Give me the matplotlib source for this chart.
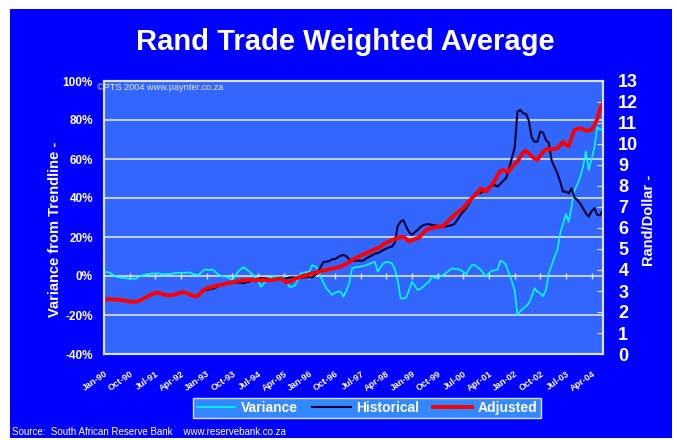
import matplotlib.pyplot as plt
import numpy as np
from matplotlib.patches import Rectangle
from matplotlib.lines import Line2D

plt.rcParams['font.family'] = ['Liberation Sans', 'DejaVu Sans']

# monthly values, Jan-90 .. Aug-04
variance = [
    2.2, 2.0, 1.7, 0.8, -0.4, -0.6, -0.9, -1.0, -1.2, -1.4, -1.3, -1.5,
    -0.6, 0.2, 0.5, 0.9, 1.1, 1.3, 1.2, 1.4, 1.0, 0.8, 1.1, 0.9,
    1.2, 1.5, 1.6, 1.7, 1.5, 1.8, 1.7, 1.2, 0.8, 0.5, 1.6, 3.1,
    3.3, 3.0, 3.4, 2.1, 0.9, 0.0, -0.3, -0.4, -1.2, -2.1, 0.1, 2.2,
    3.6, 4.5, 3.4, 2.2, 0.8, -0.6, -2.1, -5.5, -4.0, -2.1, -1.0, -0.4,
    -0.2, -0.5, -0.3, -0.4, -2.5, -5.5, -5.5, -4.8, -1.8, 1.4, 1.8, 2.0,
    2.2, 5.6, 5.0, 3.9, -0.4, -3.5, -6.3, -8.0, -9.7, -8.6, -8.0, -8.1,
    -10.6, -7.5, -3.7, 3.9, 4.4, 4.6, 4.8, 5.2, 5.6, 6.2, 6.8, 7.3,
    2.2, 4.5, 6.5, 7.3, 7.0, 6.5, 3.5, -2.1, -11.4, -11.6, -11.1, -7.2,
    -2.9, -5.0, -7.2, -6.5, -5.5, -4.0, -2.9, -0.4, -0.8, -1.2, 0.0, 0.5,
    1.5, 2.8, 3.9, 3.7, 3.5, 3.1, 2.0, 0.9, 3.5, 5.6, 5.6, 4.5,
    3.4, 1.5, -0.4, 1.5, 2.7, 2.9, 3.1, 7.8, 7.3, 5.5, 1.4, -2.5,
    -7.2, -20.0, -18.0, -16.6, -15.5, -14.0, -10.5, -6.3, -8.1, -9.0, -10.3, -7.2,
    1.4, 5.5, 9.9, 13.3, 22.0, 27.0, 31.8, 27.7, 36.0, 44.0, 47.0, 50.8,
    56.0, 64.0, 54.4, 60.0, 66.0, 76.4, 75.0, 75.4,
]

historical = [
    2.60, 2.59, 2.61, 2.60, 2.58, 2.58, 2.56, 2.54, 2.52, 2.50, 2.48, 2.48,
    2.50, 2.56, 2.63, 2.70, 2.78, 2.84, 2.88, 2.90, 2.87, 2.83, 2.79, 2.77,
    2.79, 2.83, 2.87, 2.91, 2.93, 2.89, 2.83, 2.77, 2.72, 2.76, 2.90, 3.02,
    3.05, 3.08, 3.10, 3.16, 3.22, 3.28, 3.31, 3.36, 3.40, 3.45, 3.42, 3.40,
    3.38, 3.38, 3.42, 3.45, 3.50, 3.53, 3.58, 3.62, 3.60, 3.58, 3.55, 3.54,
    3.55, 3.58, 3.60, 3.58, 3.60, 3.64, 3.65, 3.64, 3.62, 3.63, 3.65, 3.66,
    3.65, 3.65, 3.75, 3.92, 4.15, 4.38, 4.40, 4.42, 4.51, 4.52, 4.60, 4.68,
    4.71, 4.66, 4.50, 4.44, 4.43, 4.45, 4.44, 4.45, 4.56, 4.62, 4.70, 4.78,
    4.80, 4.88, 4.95, 5.02, 5.08, 5.11, 5.30, 6.10, 6.30, 6.38, 6.05, 5.80,
    5.67, 5.80, 5.90, 6.05, 6.14, 6.17, 6.19, 6.14, 6.12, 6.10, 6.08, 6.06,
    6.08, 6.10, 6.14, 6.20, 6.40, 6.62, 6.78, 6.94, 7.15, 7.40, 7.60, 7.73,
    7.65, 7.75, 7.81, 7.90, 8.00, 8.05, 7.97, 8.10, 8.25, 8.37, 8.80, 9.32,
    9.80, 11.54, 11.62, 11.46, 11.43, 11.10, 10.30, 10.11, 10.11, 10.59, 10.54, 10.19,
    10.05, 9.20, 8.90, 8.60, 8.20, 7.73, 7.73, 7.65, 7.89, 7.45, 7.33, 7.17,
    6.94, 6.70, 6.54, 6.80, 6.94, 6.62, 6.60, 6.86,
]

adjusted = [
    2.62, 2.60, 2.62, 2.60, 2.58, 2.59, 2.57, 2.55, 2.52, 2.50, 2.49, 2.49,
    2.52, 2.58, 2.65, 2.72, 2.80, 2.86, 2.90, 2.92, 2.88, 2.84, 2.80, 2.78,
    2.80, 2.84, 2.88, 2.92, 2.94, 2.90, 2.84, 2.78, 2.73, 2.78, 2.92, 3.05,
    3.13, 3.16, 3.20, 3.24, 3.27, 3.29, 3.32, 3.36, 3.39, 3.41, 3.44, 3.47,
    3.49, 3.51, 3.52, 3.53, 3.52, 3.51, 3.52, 3.52, 3.53, 3.51, 3.52, 3.52,
    3.55, 3.58, 3.60, 3.52, 3.41, 3.45, 3.52, 3.58, 3.63, 3.68, 3.72, 3.76,
    3.80, 3.84, 3.87, 3.90, 3.94, 3.97, 4.00, 4.03, 4.07, 4.10, 4.13, 4.16,
    4.22, 4.30, 4.38, 4.48, 4.55, 4.62, 4.68, 4.74, 4.80, 4.86, 4.93, 5.00,
    5.05, 5.10, 5.22, 5.30, 5.36, 5.43, 5.48, 5.52, 5.57, 5.59, 5.48, 5.35,
    5.42, 5.48, 5.51, 5.62, 5.76, 5.90, 5.96, 6.00, 6.03, 6.06, 6.06, 6.10,
    6.24, 6.38, 6.50, 6.62, 6.74, 6.86, 6.94, 7.10, 7.28, 7.42, 7.55, 7.65,
    7.89, 7.82, 7.73, 7.90, 8.05, 8.25, 8.50, 8.72, 8.76, 8.70, 8.68, 8.90,
    9.05, 9.16, 9.40, 9.60, 9.68, 9.55, 9.42, 9.30, 9.24, 9.45, 9.62, 9.75,
    9.75, 9.76, 9.75, 9.80, 9.95, 10.10, 9.95, 9.90, 10.30, 10.67, 10.72, 10.75,
    10.70, 10.63, 10.65, 10.67, 10.90, 11.20, 11.70, 11.95,
]

tick_labels = ['Jan-90', 'Oct-90', 'Jul-91', 'Apr-92', 'Jan-93', 'Oct-93', 'Jul-94',
               'Apr-95', 'Jan-96', 'Oct-96', 'Jul-97', 'Apr-98', 'Jan-99', 'Oct-99',
               'Jul-00', 'Apr-01', 'Jan-02', 'Oct-02', 'Jul-03', 'Apr-04']
tick_step = 9  # months between labels

W, H = 677, 440
grid_col = '#DCE3F2'

x = np.arange(len(adjusted))
xt = x[::tick_step][:len(tick_labels)]

fig = plt.figure(figsize=(W / 100, H / 100), dpi=100)
fig.patch.set_facecolor('white')
fig.add_artist(Rectangle((10 / W, 2 / H), 662 / W, 429 / H, transform=fig.transFigure,
                         facecolor='#0000FF', edgecolor='none', zorder=0))

ax = fig.add_axes([104 / W, 86 / H, 499 / W, 273 / H])
ax.set_facecolor('#3366FF')
ax.set_ylim(-40, 100)
ax.set_yticks(range(-40, 101, 20))
ax.set_yticklabels([f'{v}%' for v in range(-40, 101, 20)])
ax.yaxis.grid(True, color=grid_col, lw=1.2)
ax.set_axisbelow(True)
ax.tick_params(axis='y', length=0, labelcolor='white', labelsize=8.5, pad=8)
plt.setp(ax.get_yticklabels(), fontweight='bold')

ax.plot(x, variance, color='#00FFFF', lw=1.2, zorder=3)
ax.scatter(xt, np.zeros(len(xt)), marker='|', s=14, color=grid_col, lw=1, zorder=2)

ax.set_xlim(0, len(x) - 1)
ax.set_xticks(xt)
ax.set_xticklabels(tick_labels, rotation=35, ha='right', rotation_mode='anchor',
                   fontsize=6.5, fontweight='bold', color='white')
ax.tick_params(axis='x', length=0, pad=11)

ax2 = ax.twinx()
ax2.set_ylim(0, 13)
ax2.set_yticks(range(14))
ax2.tick_params(axis='y', direction='in', length=4, color=grid_col,
                labelcolor='white', labelsize=13, pad=11)
plt.setp(ax2.get_yticklabels(), fontweight='bold')
ax2.plot(x, historical, color='#000033', lw=1.5)
ax2.plot(x, adjusted, color='#FF0000', lw=2.8)

for a in (ax, ax2):
    for s in a.spines.values():
        s.set_color(grid_col)
        s.set_linewidth(1.5)

fig.text(345 / W, 1 - 42 / H, 'Rand Trade Weighted Average', ha='center', va='center',
         fontsize=21, fontweight='bold', color='white')
fig.text(55 / W, 1 - 229 / H, 'Variance from Trendline -', rotation=90, ha='center',
         va='center', fontsize=10.5, fontweight='bold', color='white')
fig.text(649 / W, 1 - 220 / H, 'Rand/Dollar -', rotation=90, ha='center',
         va='center', fontsize=10.5, fontweight='bold', color='white')
fig.text(97 / W, 1 - 88 / H, '©PTS 2004 www.paynter.co.za', fontsize=6.6,
         color='#E6ECFF', va='center')
fig.text(12 / W, 1 - 432 / H, 'Source:  South African Reserve Bank    www.reservebank.co.za',
         fontsize=7, color='white', va='center')

handles = [Line2D([], [], color='#00FFFF', lw=1.2),
           Line2D([], [], color='#000033', lw=1.5),
           Line2D([], [], color='#FF0000', lw=2.8)]
leg = fig.legend(handles, ['Variance', 'Historical', 'Adjusted'], loc='center',
                 bbox_to_anchor=(367 / W, 1 - 408 / H), ncol=3, frameon=True,
                 fancybox=False, facecolor='#3388FF', edgecolor=grid_col, framealpha=1,
                 labelcolor='white', prop={'weight': 'bold', 'size': 10},
                 handlelength=2.8, columnspacing=1.0, handletextpad=0.4, borderpad=0.25)

fig.savefig('out.png', dpi=100, facecolor=fig.get_facecolor())
